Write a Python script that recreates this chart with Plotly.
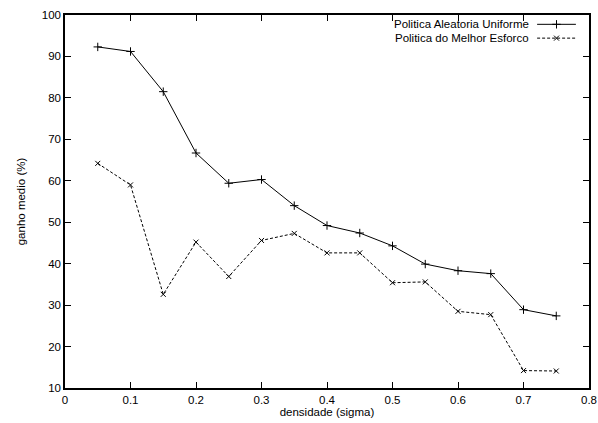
import plotly.graph_objects as go

densidade = [0.05, 0.1, 0.15, 0.2, 0.25, 0.3, 0.35, 0.4, 0.45, 0.5, 0.55, 0.6, 0.65, 0.7, 0.75]
aleatoria_uniforme = [92.3, 91.2, 81.5, 66.7, 59.4, 60.3, 54.0, 49.2, 47.4, 44.3, 39.9, 38.3, 37.6, 28.9, 27.4]
melhor_esforco = [64.2, 59.0, 32.6, 45.2, 36.9, 45.6, 47.3, 42.6, 42.6, 35.4, 35.6, 28.5, 27.7, 14.2, 14.1]
nomes = ["Politica Aleatoria Uniforme", "Politica do Melhor Esforco"]
x_ticks = [0, 0.1, 0.2, 0.3, 0.4, 0.5, 0.6, 0.7, 0.8]
y_ticks = [10, 20, 30, 40, 50, 60, 70, 80, 90, 100]

FONT = "Liberation Sans, Arial, Helvetica, sans-serif"

fig = go.Figure()
fig.add_trace(go.Scatter(
    x=densidade, y=aleatoria_uniforme, mode="lines+markers", name=nomes[0],
    line=dict(color="black", width=1),
    marker=dict(symbol="cross-thin", size=6, line=dict(color="black", width=1)),
    showlegend=False))
fig.add_trace(go.Scatter(
    x=densidade, y=melhor_esforco, mode="lines+markers", name=nomes[1],
    line=dict(color="black", width=1, dash="3px,2px"),
    marker=dict(symbol="x-thin", size=5, line=dict(color="black", width=1)),
    showlegend=False))

# legend keys (gnuplot style: text then sample) on an overlay paper-like axis
key_y = [0.975, 0.938]
kx = [0.901, 0.975]
kmid = (kx[0] + kx[1]) / 2
fig.add_trace(go.Scatter(x=kx, y=[key_y[0]] * 2, mode="lines", xaxis="x2", yaxis="y2",
                         line=dict(color="black", width=1), showlegend=False, hoverinfo="skip"))
fig.add_trace(go.Scatter(x=[kmid], y=[key_y[0]], mode="markers", xaxis="x2", yaxis="y2",
                         marker=dict(symbol="cross-thin", size=6, line=dict(color="black", width=1)),
                         showlegend=False, hoverinfo="skip"))
fig.add_trace(go.Scatter(x=kx, y=[key_y[1]] * 2, mode="lines", xaxis="x2", yaxis="y2",
                         line=dict(color="black", width=1, dash="3px,2px"), showlegend=False, hoverinfo="skip"))
fig.add_trace(go.Scatter(x=[kmid], y=[key_y[1]], mode="markers", xaxis="x2", yaxis="y2",
                         marker=dict(symbol="x-thin", size=5, line=dict(color="black", width=1)),
                         showlegend=False, hoverinfo="skip"))
for nome, yy in zip(nomes, key_y):
    fig.add_annotation(x=0.889, y=yy, xref="x2", yref="y2", text=nome, showarrow=False,
                       xanchor="right", yanchor="middle", font=dict(family=FONT, size=11.5, color="black"))

axis_common = dict(showgrid=False, zeroline=False, showline=True, linecolor="black", linewidth=1.5,
                   mirror="allticks", ticks="inside", ticklen=6, tickcolor="black", tickwidth=1,
                   automargin=False,
                   tickfont=dict(family=FONT, size=11.5, color="black"))
fig.update_layout(
    width=598, height=423,
    margin=dict(l=65, r=9, t=15, b=35, autoexpand=False),
    paper_bgcolor="white", plot_bgcolor="white",
    xaxis=dict(range=[0, 0.8], tickvals=x_ticks, ticktext=[f"{v:g}" for v in x_ticks],
               title=dict(text="densidade (sigma)", font=dict(family=FONT, size=11.5, color="black"), standoff=1),
               **axis_common),
    yaxis=dict(range=[10, 100], tickvals=y_ticks,
               title=dict(text="ganho medio (%)", font=dict(family=FONT, size=11.5, color="black"), standoff=14),
               **axis_common),
    xaxis2=dict(range=[0, 1], overlaying="x", visible=False, fixedrange=True),
    yaxis2=dict(range=[0, 1], overlaying="y", visible=False, fixedrange=True),
    font=dict(family=FONT, size=11.5, color="black"),
)

fig.write_html("out.html")
